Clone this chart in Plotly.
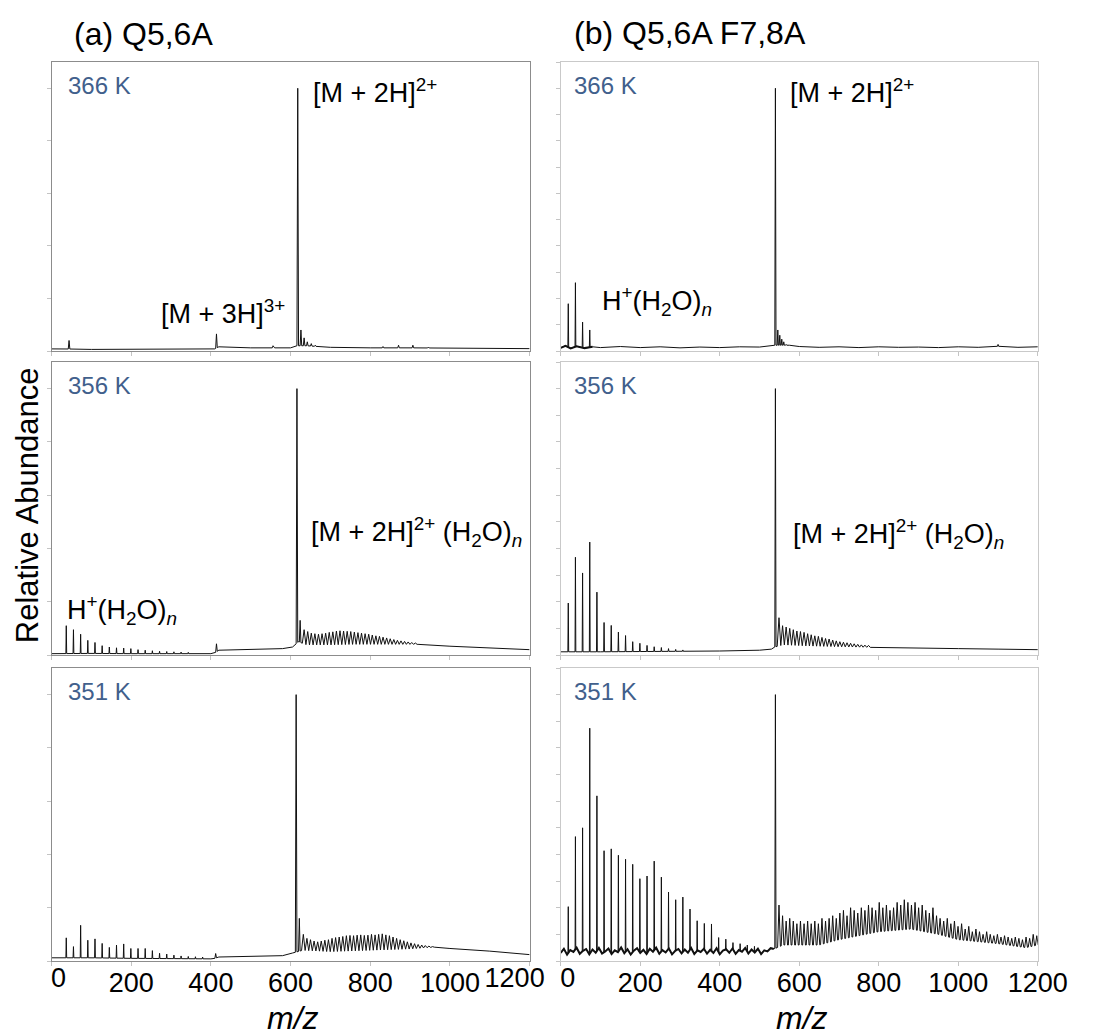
import numpy as np
import plotly.graph_objects as go

# ---------------------------------------------------------------------------
# Mass spectra data (relative abundance, main peak = 1)
# ---------------------------------------------------------------------------
WATER = 18.011
PROTON = 1.008

# (a) Q5,6A -----------------------------------------------------------------
a366_base_mz = [0, 30, 100, 200, 300, 400, 410, 420, 500, 560, 600, 612, 640, 700, 800, 900, 1000, 1100, 1200]
a366_base_int = [0.008, 0.008, 0.006, 0.006, 0.006, 0.006, 0.008, 0.016, 0.012, 0.012, 0.012, 0.02, 0.02, 0.014, 0.012, 0.012, 0.011, 0.01, 0.009]
a366_peak_mz = [44, 414, 556, 618, 626, 634, 642, 652, 662, 832, 871, 907, 946]
a366_peak_int = [0.04, 0.065, 0.02, 1.0, 0.08, 0.05, 0.035, 0.028, 0.022, 0.017, 0.022, 0.022, 0.015]

a356_base_mz = [0, 100, 200, 300, 400, 410, 420, 500, 580, 605, 620, 640, 700, 760, 820, 880, 920, 1000, 1100, 1200]
a356_base_int = [0.005, 0.006, 0.005, 0.005, 0.005, 0.008, 0.018, 0.02, 0.024, 0.03, 0.05, 0.038, 0.038, 0.04, 0.04, 0.04, 0.04, 0.033, 0.026, 0.02]
a356_water_n = list(range(2, 20))
a356_water_int = [0.11, 0.095, 0.078, 0.055, 0.047, 0.035, 0.03, 0.027, 0.026, 0.024, 0.02, 0.018, 0.016, 0.014, 0.013, 0.012, 0.011, 0.01]
a356_peak_mz = [414, 616, 624]
a356_peak_int = [0.042, 1.0, 0.13]
a356_parent = 616
a356_adduct_n = list(range(2, 34))
a356_adduct_int = [0.095, 0.088, 0.082, 0.08, 0.078, 0.08, 0.082, 0.085, 0.087, 0.09, 0.091, 0.09,
                   0.089, 0.088, 0.086, 0.084, 0.082, 0.08, 0.078, 0.075, 0.072, 0.07, 0.067, 0.064,
                   0.061, 0.058, 0.055, 0.053, 0.051, 0.049, 0.047, 0.045]

a351_base_mz = [0, 100, 200, 300, 400, 410, 420, 500, 580, 605, 630, 700, 800, 900, 960, 1000, 1100, 1200]
a351_base_int = [0.012, 0.012, 0.01, 0.009, 0.008, 0.01, 0.015, 0.017, 0.02, 0.03, 0.04, 0.035, 0.04, 0.045, 0.052, 0.047, 0.037, 0.024]
a351_water_n = list(range(2, 22))
a351_water_int = [0.087, 0.054, 0.134, 0.078, 0.083, 0.066, 0.051, 0.06, 0.064, 0.047, 0.047, 0.047,
                  0.039, 0.029, 0.026, 0.022, 0.019, 0.017, 0.016, 0.015]
a351_peak_mz = [412, 614, 622]
a351_peak_int = [0.028, 1.0, 0.16]
a351_parent = 614
a351_adduct_n = list(range(2, 39))
a351_adduct_int = [0.1, 0.085, 0.08, 0.075, 0.072, 0.075, 0.078, 0.08, 0.085, 0.088, 0.09, 0.092,
                   0.095, 0.096, 0.095, 0.097, 0.098, 0.096, 0.097, 0.1, 0.098, 0.1, 0.102, 0.098,
                   0.095, 0.09, 0.085, 0.08, 0.076, 0.072, 0.068, 0.065, 0.062, 0.06, 0.058, 0.056, 0.054]

# (b) Q5,6A F7,8A -------------------------------------------------------------
b366_base_mz = [0, 12, 25, 40, 60, 80, 100, 150, 200, 250, 300, 350, 400, 450, 500, 530, 536, 575, 600, 650,
                700, 750, 800, 850, 900, 950, 1000, 1050, 1100, 1150, 1200]
b366_base_int = [0.012, 0.02, 0.01, 0.018, 0.011, 0.016, 0.013, 0.017, 0.013, 0.016, 0.012, 0.015, 0.013, 0.016,
                 0.015, 0.02, 0.022, 0.022, 0.017, 0.014, 0.016, 0.013, 0.016, 0.014, 0.015, 0.013, 0.016, 0.014,
                 0.018, 0.014, 0.016]
b366_water_n = [1, 2, 3, 4]
b366_water_int = [0.18, 0.26, 0.11, 0.08]
b366_peak_mz = [540, 546, 551, 556, 561, 567, 1100]
b366_peak_int = [1.0, 0.08, 0.06, 0.045, 0.035, 0.025, 0.025]

b356_base_mz = [0, 100, 200, 300, 400, 500, 530, 538, 560, 620, 700, 800, 900, 1000, 1100, 1200]
b356_base_int = [0.012, 0.012, 0.013, 0.014, 0.015, 0.018, 0.022, 0.03, 0.038, 0.034, 0.031, 0.028, 0.026, 0.024, 0.022, 0.02]
b356_water_n = list(range(1, 18))
b356_water_int = [0.195, 0.367, 0.308, 0.424, 0.236, 0.122, 0.111, 0.086, 0.073, 0.05, 0.044,
                  0.036, 0.031, 0.028, 0.024, 0.021, 0.019]
b356_peak_mz = [540]
b356_peak_int = [1.0]
b356_parent = 540
b356_adduct_n = list(range(1, 27))
b356_adduct_int = [0.14, 0.11, 0.105, 0.1, 0.095, 0.09, 0.088, 0.085, 0.08, 0.076, 0.072, 0.07,
                   0.066, 0.062, 0.06, 0.056, 0.053, 0.05, 0.048, 0.046, 0.044, 0.042, 0.04, 0.038,
                   0.037, 0.036]

# low-mass noise band of the 351 K spectrum, then the valley level of the adduct region
b351_noise_mz = [0, 8, 16, 24, 32, 40, 48, 56, 64, 72, 80, 88, 96, 104, 112, 120, 128, 136, 144, 152,
                 160, 168, 176, 184, 192, 200, 208, 216, 224, 232, 240, 248, 256, 264, 272, 280, 288,
                 296, 304, 312, 320, 328, 336, 344, 352, 360, 368, 376, 384, 392, 400, 408, 416, 424,
                 432, 440, 448, 456, 464, 472, 480, 488, 496, 504, 512, 520, 528, 536]
b351_noise_int = [0.03, 0.046, 0.024, 0.041, 0.034, 0.05, 0.027, 0.038, 0.045, 0.025,
                  0.043, 0.031, 0.049, 0.028, 0.036, 0.047, 0.026, 0.04, 0.033, 0.051,
                  0.029, 0.044, 0.024, 0.039, 0.048, 0.03, 0.042, 0.026, 0.046, 0.035,
                  0.05, 0.027, 0.041, 0.032, 0.047, 0.025, 0.038, 0.045, 0.029, 0.043,
                  0.031, 0.049, 0.026, 0.04, 0.034, 0.046, 0.028, 0.042, 0.03, 0.048,
                  0.025, 0.039, 0.044, 0.031, 0.047, 0.027, 0.041, 0.035, 0.049, 0.028,
                  0.043, 0.032, 0.046, 0.026, 0.04, 0.036, 0.048, 0.045]
b351_valley_mz = [560, 650, 700, 800, 880, 950, 1000, 1100, 1170, 1200]
b351_valley_int = [0.06, 0.06, 0.08, 0.11, 0.12, 0.1, 0.08, 0.065, 0.05, 0.06]
b351_water_n = list(range(1, 28))
b351_water_int = [0.204, 0.467, 0.5, 0.874, 0.62, 0.414, 0.421, 0.397, 0.382, 0.363, 0.309, 0.319,
                  0.375, 0.315, 0.259, 0.23, 0.24, 0.195, 0.151, 0.141, 0.139, 0.088, 0.082, 0.069,
                  0.065, 0.06, 0.055]
b351_peak_mz = [540]
b351_peak_int = [1.0]
b351_parent = 540
b351_adduct_n = list(range(1, 74))
b351_adduct_int = [0.21, 0.17, 0.15, 0.16, 0.15, 0.14, 0.15, 0.14, 0.15, 0.14, 0.15, 0.14, 0.16,
                   0.15, 0.16, 0.17, 0.16, 0.18, 0.19, 0.17, 0.2, 0.19, 0.18, 0.2, 0.19, 0.21,
                   0.2, 0.19, 0.22, 0.2, 0.21, 0.19, 0.2, 0.22, 0.21, 0.23, 0.22, 0.21, 0.22,
                   0.2, 0.21, 0.19, 0.18, 0.2, 0.17, 0.16, 0.15, 0.16, 0.14, 0.15, 0.13, 0.14,
                   0.12, 0.13, 0.11, 0.12, 0.11, 0.1, 0.11, 0.1, 0.095, 0.1, 0.09, 0.095, 0.09,
                   0.085, 0.09, 0.085, 0.08, 0.09, 0.085, 0.1, 0.095]

x_ticks = [0, 200, 400, 600, 800, 1000, 1200]
x_tick_text = ["0", "200", "400", "600", "800", "1000", "1200"]
temps = ["366 K", "356 K", "351 K"]


def build_trace(base_mz, base_int, sticks):
    """Join a baseline with triangular peaks; sticks = list of (mz, intensity, half_width)."""
    bx = np.asarray(base_mz, float)
    by = np.asarray(base_int, float)
    pts = []
    spans = []
    for mz, h, w in sticks:
        foot_l = float(np.interp(mz - w, bx, by))
        foot_r = float(np.interp(mz + w, bx, by))
        pts += [(mz - w, foot_l), (mz, h), (mz + w, foot_r)]
        spans.append((mz - w, mz + w))
    for x, y in zip(bx, by):
        if not any(a <= x <= b for a, b in spans):
            pts.append((x, y))
    pts.sort(key=lambda p: p[0])
    return [p[0] for p in pts], [p[1] for p in pts]


def water_sticks(ns, ints, w=1.0):
    return [(PROTON + WATER * n, h, w) for n, h in zip(ns, ints)]


def adduct_sticks(parent, ns, ints, w=4.5):
    # doubly charged ion: each water adds 18/2 in m/z
    return [(parent + WATER / 2 * n, h, w) for n, h in zip(ns, ints)]


def peak_sticks(mzs, ints, w=2.0):
    return [(m, h, w) for m, h in zip(mzs, ints)]


spectra = {
    (0, 0): build_trace(a366_base_mz, a366_base_int, peak_sticks(a366_peak_mz, a366_peak_int, 2.0)),
    (1, 0): build_trace(a356_base_mz, a356_base_int,
                        water_sticks(a356_water_n, a356_water_int)
                        + peak_sticks(a356_peak_mz, a356_peak_int, 2.0)
                        + adduct_sticks(a356_parent, a356_adduct_n, a356_adduct_int)),
    (2, 0): build_trace(a351_base_mz, a351_base_int,
                        water_sticks(a351_water_n, a351_water_int)
                        + peak_sticks(a351_peak_mz, a351_peak_int, 2.0)
                        + adduct_sticks(a351_parent, a351_adduct_n, a351_adduct_int)),
    (0, 1): build_trace(b366_base_mz, b366_base_int,
                        water_sticks(b366_water_n, b366_water_int)
                        + peak_sticks(b366_peak_mz, b366_peak_int, 1.5)),
    (1, 1): build_trace(b356_base_mz, b356_base_int,
                        water_sticks(b356_water_n, b356_water_int)
                        + peak_sticks(b356_peak_mz, b356_peak_int, 1.5)
                        + adduct_sticks(b356_parent, b356_adduct_n, b356_adduct_int)),
    (2, 1): build_trace(b351_noise_mz + b351_valley_mz, b351_noise_int + b351_valley_int,
                        water_sticks(b351_water_n, b351_water_int, 0.8)
                        + peak_sticks(b351_peak_mz, b351_peak_int, 1.5)
                        + adduct_sticks(b351_parent, b351_adduct_n, b351_adduct_int, 3.5)),
}

# ---------------------------------------------------------------------------
# Layout geometry (pixels in a 1096 x 1036 canvas)
# ---------------------------------------------------------------------------
W, H = 1096, 1036
col_px = [(52, 544), (576, 1067)]
row_px = [(62, 351), (362, 655), (668, 961)]
frame_col = ["#8c8c8c", "#c9c9c9"]
ytick_step = [0.2, 0.1]
FONT = "Liberation Sans, Arial, sans-serif"
TEMP_COLOR = "#41608c"
TICK_FONT = dict(size=27, color="black", family=FONT)

# end labels are drawn on overlay axes so they can sit slightly inside the panel
main_tick_text = [
    [""] + x_tick_text[1:-1] + [""],
    [""] + x_tick_text[1:],
]

fig = go.Figure()
layout = dict(width=W, height=H, margin=dict(l=0, r=0, t=0, b=0),
              paper_bgcolor="white", plot_bgcolor="white", showlegend=False,
              font=dict(family=FONT, color="black"))
annotations = []

idx = 0
for c in range(2):
    for r in range(3):
        idx += 1
        xa = "xaxis" if idx == 1 else f"xaxis{idx}"
        ya = "yaxis" if idx == 1 else f"yaxis{idx}"
        xr = "x" if idx == 1 else f"x{idx}"
        yr = "y" if idx == 1 else f"y{idx}"
        x0, x1 = col_px[c]
        y0, y1 = row_px[r]
        layout[xa] = dict(domain=[x0 / W, x1 / W], anchor=yr, range=[0, 1200],
                          tickvals=x_ticks, ticktext=main_tick_text[c], showticklabels=(r == 2),
                          ticks="outside", ticklen=4, tickcolor="#c4c4c4",
                          ticklabelstandoff=-6,
                          showline=True, mirror=True, linecolor=frame_col[c], linewidth=1,
                          showgrid=False, zeroline=False, fixedrange=True, tickfont=TICK_FONT)
        layout[ya] = dict(domain=[1 - y1 / H, 1 - y0 / H], anchor=xr, range=[0, 1.1],
                          dtick=ytick_step[c], tick0=0, showticklabels=False,
                          ticks="outside", ticklen=4, tickcolor="#c4c4c4",
                          showline=True, mirror=True, linecolor=frame_col[c], linewidth=1,
                          showgrid=False, zeroline=False, fixedrange=True)
        xs, ys = spectra[(r, c)]
        fig.add_trace(go.Scatter(x=xs, y=ys, mode="lines", xaxis=xr, yaxis=yr,
                                 line=dict(color="#111111", width=1), hoverinfo="skip"))
        annotations.append(dict(text=temps[r], x=37 if c == 0 else 29, y=1.01, xref=xr, yref=yr,
                                xanchor="left", yanchor="middle", showarrow=False,
                                font=dict(size=24, color=TEMP_COLOR, family=FONT)))

# overlay axes carrying the shifted end labels: (axis id, base axis, y axis, tick index, shift px)
end_labels = [(7, "x3", "y3", 0, 7), (8, "x3", "y3", 6, -15), (9, "x6", "y6", 0, 7)]
for ax_id, base, yref, ti, shift in end_labels:
    dom = layout["xaxis" + base[1:]]["domain"]
    layout[f"xaxis{ax_id}"] = dict(domain=dom, overlaying=base, anchor=yref, side="bottom",
                                  range=[0, 1200], tickvals=[x_ticks[ti]], ticktext=[x_tick_text[ti]],
                                  ticks="", showline=False, showgrid=False, zeroline=False,
                                  ticklabelshift=shift, ticklabelstandoff=-2,
                                  fixedrange=True, tickfont=TICK_FONT)
    fig.add_trace(go.Scatter(x=[None], y=[None], xaxis=f"x{ax_id}", yaxis=yref,
                             mode="lines", showlegend=False, hoverinfo="skip"))

# dense baseline noise at low m/z in the (b) spectra
fig.add_trace(go.Scatter(x=b351_noise_mz, y=b351_noise_int, mode="lines",
                         xaxis="x6", yaxis="y6", line=dict(color="#111111", width=2),
                         hoverinfo="skip"))
fig.add_trace(go.Scatter(x=b366_base_mz[:6], y=b366_base_int[:6], mode="lines",
                         xaxis="x4", yaxis="y4", line=dict(color="#111111", width=2),
                         hoverinfo="skip"))

ion_font = dict(size=27, color="black", family=FONT)
m2h = "[M + 2H]<sup>2+</sup>"
m3h = "[M + 3H]<sup>3+</sup>"
m2h_w = "[M + 2H]<sup>2+</sup> (H<sub>2</sub>O)<sub><i>n</i></sub>"
h_w = "H<sup>+</sup>(H<sub>2</sub>O)<sub><i>n</i></sub>"
ion_labels = [
    (m2h, "x", "y", 651, 0.99),
    (m3h, "x", "y", 271, 0.15),
    (m2h_w, "x2", "y2", 646, 0.46),
    (h_w, "x2", "y2", 34, 0.17),
    (m2h, "x4", "y4", 572, 0.99),
    (h_w, "x4", "y4", 100, 0.19),
    (m2h_w, "x5", "y5", 579, 0.455),
]
for text, xr, yr, x, y in ion_labels:
    annotations.append(dict(text=text, x=x, y=y, xref=xr, yref=yr, xanchor="left",
                            yanchor="middle", showarrow=False, font=ion_font))

# panel titles and shared axis titles
annotations += [
    dict(text="(a) Q5,6A", x=73 / W, y=1 - 34 / H, xref="paper", yref="paper",
         xanchor="left", yanchor="middle", showarrow=False, font=dict(size=32, family=FONT)),
    dict(text="(b) Q5,6A F7,8A", x=588 / W, y=1 - 33 / H, xref="paper", yref="paper",
         xanchor="left", yanchor="middle", showarrow=False, font=dict(size=32, family=FONT)),
    dict(text="Relative Abundance", x=27 / W, y=1 - 505 / H, xref="paper", yref="paper",
         xanchor="center", yanchor="middle", textangle=-90, showarrow=False,
         font=dict(size=31, family=FONT)),
    dict(text="<i>m/z</i>", x=300 / W, y=1 - 1018 / H, xref="paper", yref="paper",
         xanchor="center", yanchor="middle", showarrow=False, font=dict(size=32, family=FONT)),
    dict(text="<i>m/z</i>", x=824 / W, y=1 - 1018 / H, xref="paper", yref="paper",
         xanchor="center", yanchor="middle", showarrow=False, font=dict(size=32, family=FONT)),
]
layout["annotations"] = annotations
fig.update_layout(**layout)
fig.write_html("out.html")
